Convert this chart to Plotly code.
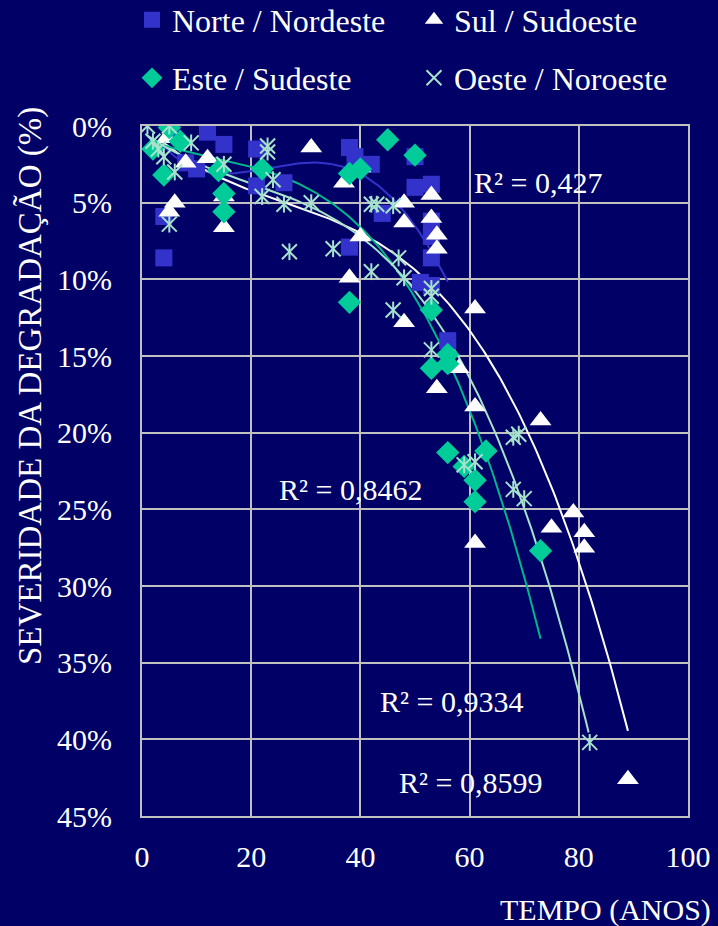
import numpy as np
import plotly.graph_objects as go

# ---------------- data ----------------
norte_x = [4, 4, 5.5, 8, 10, 12, 15, 21, 21, 26, 38, 39, 42, 38, 44, 50, 50, 53, 53, 53, 53, 51, 53, 56]
norte_y = [8.6, 5.9, 0.5, 2.4, 2.8, 0.4, 1.2, 1.5, 3.9, 3.7, 1.4, 2.0, 2.5, 7.9, 5.7, 2.0, 4.0, 3.8, 6.2, 7.2, 8.6, 10.2, 10.4, 14.0]

sul_x = [4.5, 5, 6, 8, 12, 15, 15, 31, 37, 38, 40, 40, 48, 48, 48, 53, 53, 54, 54, 54, 58, 61, 61, 61, 73, 75, 79, 81, 81, 89]
sul_y = [0.8, 5.6, 5.0, 2.4, 2.1, 4.6, 6.6, 1.4, 3.7, 9.9, 2.7, 7.2, 5.0, 6.3, 12.8, 4.5, 6.0, 7.1, 8.0, 17.1, 15.8, 11.9, 18.3, 27.2, 19.2, 26.2, 25.2, 26.5, 27.5, 42.6]

este_x = [5, 2, 4, 7, 14, 15, 15, 22, 38, 40, 45, 50, 38, 53, 56, 56, 53, 56, 63, 59, 61, 61, 73]
este_y = [0.1, 1.5, 3.2, 1.0, 2.9, 4.4, 5.6, 2.8, 3.1, 2.8, 0.9, 1.9, 11.5, 12.0, 14.9, 15.5, 15.8, 21.3, 21.2, 22.2, 23.1, 24.5, 27.7]

oeste_x = [1, 5, 2, 3, 9, 4, 6, 15, 5, 23, 23, 22, 24, 26, 31, 27, 35, 42, 43, 46, 47, 42, 48, 53, 53, 46, 53, 59, 61, 68, 69, 68, 70, 82]
oeste_y = [0.0, 0.0, 1.0, 1.5, 1.1, 2.0, 3.0, 2.5, 6.4, 1.3, 1.7, 4.6, 3.5, 5.1, 5.0, 8.2, 8.0, 5.1, 5.1, 5.2, 8.6, 9.5, 9.9, 10.6, 11.1, 12.0, 14.6, 22.1, 21.9, 20.3, 20.1, 23.7, 24.3, 40.2]

# polynomial trend lines: values
norte_trend_x = [3.9, 20, 31, 34.5, 41.8, 51, 56]
norte_trend_y = [1.3, 2.9, 2.5, 2.5, 3.3, 7.2, 10.1]
sul_trend_x = [3.9, 19.8, 32.7, 40, 47.3, 51, 59.6, 65.7, 72.5, 79.8, 89]
sul_trend_y = [1.2, 4.0, 5.5, 7.1, 8.7, 10.2, 13.1, 16.6, 21.0, 28.0, 39.7]
este_trend_x = [2, 19.8, 32.7, 40, 47.9, 52.8, 56.1, 62.6, 69.4, 73]
este_trend_y = [1.0, 2.7, 4.7, 6.5, 9.8, 12.8, 15.1, 21.8, 28.3, 33.4]
oeste_trend_x = [1, 19.8, 32.7, 46, 58, 60.2, 63.9, 66.2, 73.4, 81.8]
oeste_trend_y = [0.5, 4.2, 5.3, 8.7, 15.1, 16.6, 19.4, 21.8, 28.3, 39.5]

series_names = ["Norte / Nordeste", "Sul / Sudoeste", "Este / Sudeste", "Oeste / Noroeste"]
r2_labels = ["R² = 0,427", "R² = 0,8462", "R² = 0,9334", "R² = 0,8599"]
r2_x = [72.5, 38.2, 56.7, 60.2]
r2_y = [3.7, 23.7, 37.5, 42.8]

x_ticks = [0, 20, 40, 60, 80, 100]
y_ticks = [0, 5, 10, 15, 20, 25, 30, 35, 40, 45]
y_tick_text = [f"{v}%" for v in y_ticks]

# ---------------- style ----------------
BG = "#000066"
GRID = "#C0C0C0"
C_NORTE = "#3333CC"
C_SUL = "#FFFFFF"
C_ESTE = "#00CC99"
C_ESTE_LINE = "#00B88A"
C_OESTE = "#A6E3CC"
FONT = "Liberation Serif"

W, H = 718, 926
ML, MR, MT, MB = 142, 30, 126, 110
PW, PH = W - ML - MR, H - MT - MB


def px_x(p):
    return (p - ML) / PW


def px_y(p):
    return 1 - (p - MT) / PH


def trend(xs, ys, deg):
    xs = np.asarray(xs, float)
    ys = np.asarray(ys, float)
    c = np.polyfit(xs, ys, deg)
    xx = np.linspace(xs.min(), xs.max(), 200)
    return xx, np.polyval(c, xx)


fig = go.Figure()

# trend lines
for xs, ys, col, deg in [(norte_trend_x, norte_trend_y, C_NORTE, 4),
                         (sul_trend_x, sul_trend_y, C_SUL, 3),
                         (este_trend_x, este_trend_y, C_ESTE_LINE, 3),
                         (oeste_trend_x, oeste_trend_y, C_OESTE, 3)]:
    tx, ty = trend(xs, ys, deg)
    fig.add_trace(go.Scatter(x=tx, y=ty, mode="lines", line=dict(color=col, width=2),
                             showlegend=False, hoverinfo="skip"))

# markers
fig.add_trace(go.Scatter(x=norte_x, y=norte_y, mode="markers", name=series_names[0],
                         marker=dict(symbol="square", size=17, color=C_NORTE), legend="legend"))
fig.add_trace(go.Scatter(x=sul_x, y=sul_y, mode="markers", name=series_names[1],
                         marker=dict(symbol="triangle-up", size=19, color=C_SUL), legend="legend2"))
fig.add_trace(go.Scatter(x=este_x, y=este_y, mode="markers", name=series_names[2],
                         marker=dict(symbol="diamond", size=18, color=C_ESTE), legend="legend3"))
fig.add_trace(go.Scatter(x=oeste_x, y=oeste_y, mode="markers", name=series_names[3],
                         legendgroup="oeste",
                         marker=dict(symbol="x-thin-open", size=15, color=C_OESTE,
                                     line=dict(color=C_OESTE, width=2)), legend="legend4"))
fig.add_trace(go.Scatter(x=oeste_x, y=oeste_y, mode="markers", showlegend=False,
                         legendgroup="oeste", legend="legend4",
                         marker=dict(symbol="line-ns-open", size=12, color=C_OESTE,
                                     line=dict(color=C_OESTE, width=2))))

annotations = []
for t, xv, yv in zip(r2_labels, r2_x, r2_y):
    annotations.append(dict(x=xv, y=yv, xref="x", yref="y", text=t, showarrow=False,
                            xanchor="center", yanchor="middle",
                            font=dict(family=FONT, size=30, color="white")))

annotations.append(dict(xref="paper", yref="paper", x=px_x(30), y=px_y(386),
                        xanchor="center", yanchor="middle",
                        text="SEVERIDADE DA DEGRADAÇÃO (%)", textangle=-90, showarrow=False,
                        font=dict(family=FONT, size=33, color="white")))
annotations.append(dict(xref="paper", yref="paper", x=px_x(713), y=px_y(910),
                        xanchor="right", yanchor="middle",
                        text="TEMPO (ANOS)", showarrow=False,
                        font=dict(family=FONT, size=30, color="white")))


def leg(xp, yp):
    return dict(orientation="h", x=px_x(xp), y=px_y(yp), xanchor="left", yanchor="middle",
                bgcolor="rgba(0,0,0,0)", font=dict(family=FONT, size=32, color="white"))


fig.update_layout(
    width=W, height=H,
    margin=dict(l=ML, r=MR, t=MT, b=MB, autoexpand=False),
    paper_bgcolor=BG, plot_bgcolor=BG,
    font=dict(family=FONT, size=30, color="white"),
    annotations=annotations,
    legend=leg(132, 20),
    legend2=leg(414, 20),
    legend3=leg(132, 78),
    legend4=leg(414, 78),
    xaxis=dict(range=[0, 100], tickvals=x_ticks, showgrid=True, gridcolor=GRID, gridwidth=2,
               zeroline=False, showline=True, mirror=True, linecolor=GRID, linewidth=2,
               ticks="outside", ticklen=13, tickcolor=BG,
               tickfont=dict(family=FONT, size=30, color="white")),
    yaxis=dict(range=[45, 0], tickvals=y_ticks, ticktext=y_tick_text, showgrid=True,
               gridcolor=GRID, gridwidth=2, zeroline=False, showline=True, mirror=True,
               linecolor=GRID, linewidth=2, ticks="outside", ticklen=22, tickcolor=BG,
               tickfont=dict(family=FONT, size=30, color="white")),
)

fig.write_html("out.html", config={"displayModeBar": False},
               post_script="document.body.style.margin='0';"
                           "document.body.style.background='#000066';")
